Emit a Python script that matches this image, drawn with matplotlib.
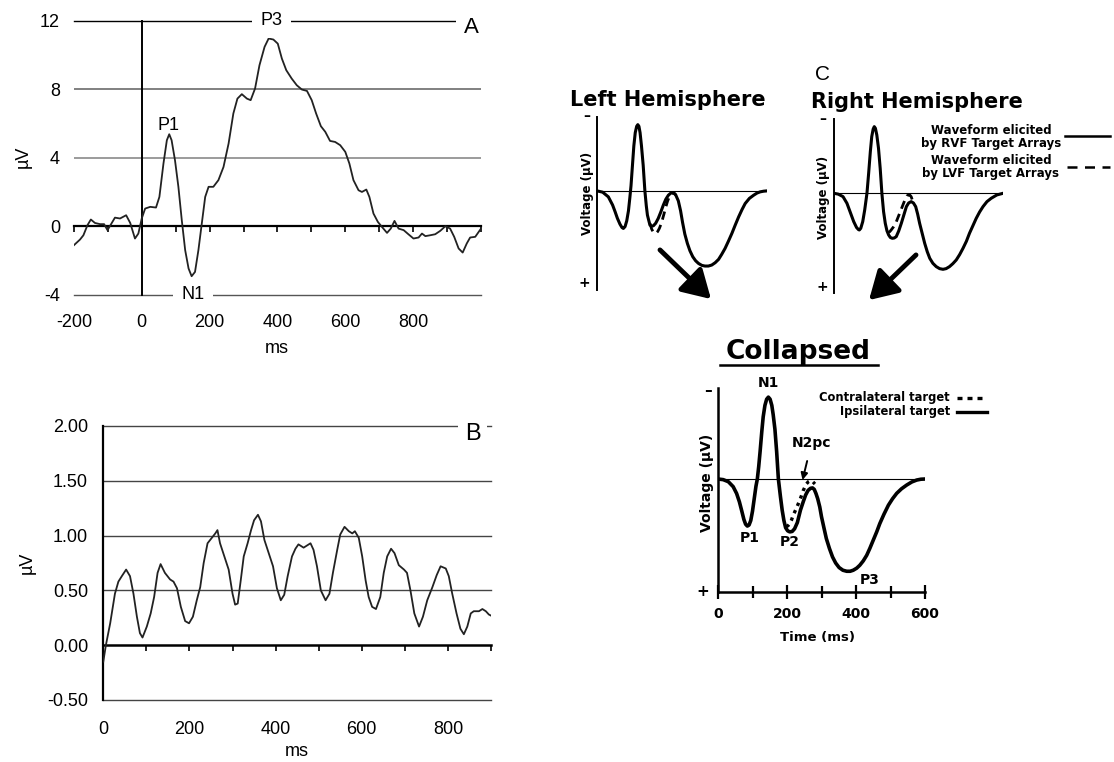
import numpy as np
import matplotlib.pyplot as plt
from matplotlib.lines import Line2D
from matplotlib.patches import FancyArrowPatch

W, H = 1114, 762

# --- panel A: grand average waveform (ms, uV) ---
a_ms = [-200, -182, -172, -160, -150, -138, -123, -111, -101, -91, -79, -64, -46, -34, -20, -10,
        0, 10, 25, 42, 52, 64, 74, 81, 88, 98, 108, 118, 128, 138, 147, 157, 167, 177, 187, 197,
        211, 226, 241, 256, 270, 282, 295, 310, 321, 334, 347, 362, 374, 388, 401, 413, 426, 442,
        457, 472, 487, 501, 514, 528, 541, 555, 570, 585, 600, 612, 624, 639, 649, 662, 671, 683,
        696, 708, 723, 734, 745, 757, 772, 786, 801, 816, 826, 836, 850, 865, 880, 895, 909, 921,
        934, 946, 958, 968, 983, 1000]
a_uv = [-1.11, -0.78, -0.53, 0.06, 0.39, 0.19, 0.12, 0.12, -0.23, 0.10, 0.50, 0.45, 0.64, 0.19, -0.72, -0.43,
        0.45, 1.03, 1.13, 1.09, 1.71, 3.66, 5.02, 5.37, 5.02, 3.85, 2.30, 0.35, -1.40, -2.47, -2.92, -2.67, -1.40, 0.16, 1.71, 2.30,
        2.30, 2.69, 3.46, 4.83, 6.58, 7.45, 7.71, 7.45, 7.36, 8.04, 9.40, 10.47, 10.96, 10.90, 10.66, 9.79, 9.11, 8.62,
        8.23, 7.98, 7.90, 7.36, 6.58, 5.84, 5.51, 4.98, 4.92, 4.73, 4.34, 3.66, 2.69, 2.10, 2.00, 2.14, 1.71, 0.74,
        0.25, -0.04, -0.39, -0.14, 0.31, -0.14, -0.23, -0.47, -0.72, -0.66, -0.43, -0.58, -0.53, -0.47, -0.27, 0.00, -0.14, -0.62,
        -1.30, -1.54, -1.01, -0.66, -0.62, -0.14]

# --- panel B: waveform (ms, uV) ---
b_ms = [0, 6, 16, 27, 35, 43, 53, 62, 70, 78, 85, 91, 101, 110, 118, 126, 133, 143, 155, 163, 171, 180,
        190, 199, 208, 217, 225, 233, 242, 252, 260, 265, 271, 281, 291, 300, 306, 312, 319, 326, 335, 343,
        350, 359, 366, 374, 384, 394, 403, 412, 420, 428, 438, 446, 453, 465, 473, 481, 488, 496, 505, 516,
        525, 533, 543, 550, 560, 570, 578, 584, 593, 601, 609, 616, 624, 633, 643, 651, 659, 668, 676, 686,
        698, 705, 713, 722, 733, 742, 752, 764, 774, 783, 795, 802, 810, 820, 829, 837, 845, 853, 860, 872,
        880, 888, 895, 900]
b_uv = [-0.15, 0.00, 0.20, 0.47, 0.58, 0.63, 0.69, 0.63, 0.47, 0.26, 0.11, 0.07, 0.17, 0.29, 0.44, 0.66, 0.74, 0.66, 0.60, 0.58, 0.52, 0.35,
        0.22, 0.20, 0.26, 0.41, 0.53, 0.75, 0.93, 0.98, 1.02, 1.05, 0.93, 0.81, 0.69, 0.47, 0.37, 0.38, 0.59, 0.81, 0.93, 1.05,
        1.14, 1.19, 1.13, 0.96, 0.84, 0.72, 0.52, 0.41, 0.46, 0.63, 0.81, 0.88, 0.92, 0.89, 0.91, 0.93, 0.87, 0.72, 0.50, 0.41,
        0.47, 0.66, 0.87, 1.01, 1.08, 1.04, 1.02, 1.04, 0.98, 0.81, 0.59, 0.44, 0.35, 0.33, 0.44, 0.66, 0.81, 0.88, 0.84, 0.73,
        0.69, 0.66, 0.50, 0.29, 0.17, 0.26, 0.41, 0.53, 0.64, 0.72, 0.70, 0.63, 0.47, 0.29, 0.15, 0.10, 0.17, 0.29, 0.31, 0.31,
        0.33, 0.31, 0.28, 0.27]
b_yticks = [-0.5, 0.0, 0.5, 1.0, 1.5, 2.0]

# --- panel C: schematic waveforms (ms, arbitrary units, positive down) ---
lh_ms = [0, 20, 40, 55, 64, 72, 81, 88, 93, 99, 105, 111, 116, 120, 125, 130, 135, 140, 144, 148, 152, 157,
         163, 169, 174, 178, 183, 187, 193, 199, 207, 216, 225, 234, 243, 252, 261, 269, 278, 287, 295, 302,
         310, 319, 328, 338, 348, 358, 370, 381, 393, 405, 417, 429, 440, 452, 464, 476, 488, 500, 512, 523,
         538, 553, 565, 576, 588, 600]
lh_v = [0, 0.08, 0.36, 0.85, 1.26, 1.65, 2.0, 2.2, 2.26, 2.15, 1.8, 1.2, 0.4, -0.3, -1.5, -2.7, -3.5, -3.88, -3.98, -3.88, -3.5, -2.7,
        -1.54, 0, 0.9, 1.46, 1.8, 2.06, 2.12, 2.1, 1.95, 1.66, 1.28, 0.86, 0.5, 0.26, 0.13, 0.1, 0.25, 0.6, 1.2, 1.9,
        2.6, 3.16, 3.6, 3.96, 4.2, 4.36, 4.48, 4.52, 4.52, 4.46, 4.32, 4.12, 3.82, 3.46, 3.02, 2.56, 2.05, 1.56, 1.12, 0.76,
        0.45, 0.26, 0.13, 0.06, 0.02, 0]
lh_lvf_ms = [187, 193, 198, 203, 208, 214, 220, 226, 231, 237, 243, 249, 255, 261, 267, 273, 279]
lh_lvf_v = [1.96, 2.3, 2.46, 2.54, 2.56, 2.45, 2.26, 2.0, 1.72, 1.35, 0.96, 0.62, 0.36, 0.2, 0.12, 0.15, 0.26]

rh_ms = [0, 15, 32, 46, 58, 70, 80, 87, 90, 95, 102, 109, 117, 123, 129, 134, 139, 143, 147, 152, 158, 164,
         170, 176, 182, 188, 194, 200, 207, 214, 221, 230, 239, 248, 257, 265, 274, 282, 290, 297, 304, 313,
         322, 331, 340, 351, 363, 375, 387, 398, 410, 422, 434, 446, 458, 470, 481, 493, 505, 517, 529, 543,
         558, 578, 600]
rh_v = [0, 0.05, 0.2, 0.6, 1.15, 1.7, 2.05, 2.18, 2.2, 2.1, 1.7, 1.0, 0, -1.2, -2.5, -3.4, -3.85, -4.0, -3.9, -3.5, -2.7, -1.5,
        0, 1.1, 1.8, 2.25, 2.5, 2.65, 2.7, 2.68, 2.6, 2.25, 1.8, 1.3, 0.8, 0.58, 0.5, 0.58, 0.8, 1.25, 1.8, 2.4,
        3.0, 3.5, 3.9, 4.2, 4.4, 4.52, 4.56, 4.52, 4.4, 4.22, 4.0, 3.68, 3.3, 2.88, 2.4, 1.95, 1.5, 1.12, 0.8, 0.5,
        0.3, 0.1, 0]
rh_lvf_ms = [192, 198, 203, 211, 219, 226, 233, 240, 247, 253, 259, 264, 269, 274, 278]
rh_lvf_v = [2.35, 2.3, 2.2, 2.02, 1.8, 1.5, 1.2, 0.9, 0.6, 0.35, 0.16, 0.1, 0.1, 0.2, 0.4]

col_ms = [0, 15, 30, 44, 54, 62, 69, 75, 80, 85, 90, 95, 100, 105, 110, 114, 118, 122, 127, 131, 136, 141,
          146, 151, 156, 160, 165, 170, 175, 181, 186, 191, 196, 202, 208, 215, 222, 230, 239, 247, 254, 261,
          268, 274, 279, 284, 289, 295, 300, 307, 314, 323, 332, 341, 351, 362, 373, 383, 392, 402, 411, 421,
          431, 440, 450, 460, 469, 481, 494, 506, 518, 532, 547, 562, 576, 588, 600]
col_v = [0, 0.03, 0.13, 0.37, 0.7, 1.1, 1.55, 1.95, 2.18, 2.27, 2.22, 2.0, 1.55, 0.95, 0.35, 0, -0.6, -1.32, -2.3, -3.0, -3.55, -3.85,
         -3.95, -3.85, -3.55, -3.1, -2.4, -1.32, 0, 0.85, 1.5, 2.0, 2.35, 2.5, 2.55, 2.53, 2.4, 2.1, 1.5, 1.1, 0.77, 0.55,
         0.45, 0.43, 0.5, 0.7, 0.95, 1.35, 1.82, 2.35, 2.87, 3.35, 3.76, 4.05, 4.27, 4.4, 4.45, 4.45, 4.4, 4.3, 4.16, 3.95,
         3.68, 3.35, 2.95, 2.55, 2.15, 1.7, 1.26, 0.95, 0.69, 0.47, 0.29, 0.14, 0.05, 0.01, 0]
col_contra_ms = [198, 203, 208, 213, 218, 222, 227, 232, 237, 242, 247, 252, 256, 262, 268, 274, 281]
col_contra_v = [2.3, 2.25, 2.15, 1.98, 1.74, 1.6, 1.42, 1.22, 1.02, 0.8, 0.56, 0.38, 0.24, 0.13, 0.08, 0.12, 0.24]
col_xticks = [0, 200, 400, 600]

plt.rcParams['font.family'] = 'Liberation Sans'
plt.rcParams['axes.unicode_minus'] = False

fig = plt.figure(figsize=(W / 100, H / 100), dpi=100)


def box(x0, y0, x1, y1):
    # axes from pixel box (top-left origin)
    return fig.add_axes([x0 / W, 1 - y1 / H, (x1 - x0) / W, (y1 - y0) / H])


def fp(x, y):
    return x / W, 1 - y / H


# ---------------- panel A ----------------
axA = box(73.9, 20.7, 481, 294.7)
axA.set_xlim(-200, 1000)
axA.set_ylim(-4, 12)
for s in axA.spines.values():
    s.set_visible(False)
axA.axhline(12, color='black', lw=1, clip_on=False)
axA.axhline(8, color='#808080', lw=1.4)
axA.axhline(4, color='#808080', lw=1.1)
axA.axhline(-4, color='#555555', lw=1, clip_on=False)
axA.axvline(0, color='black', lw=1.4, clip_on=False)
secA = axA.secondary_xaxis(0.25)
secA.set_xticks(np.arange(-200, 1001, 100))
secA.tick_params(direction='out', length=4, width=1.2, labelbottom=False)
secA.spines['bottom'].set_linewidth(1.6)
axA.plot(a_ms, a_uv, color='#222222', lw=1.3)
axA.set_xticks(range(-200, 801, 200))
axA.set_yticks([-4, 0, 4, 8, 12])
axA.tick_params(axis='x', length=0, labelsize=13, pad=14)
axA.tick_params(axis='y', length=0, labelsize=13, pad=10)
axA.text(383, 12, 'P3', ha='center', va='center', fontsize=13,
         bbox=dict(fc='white', ec='none', pad=6))
axA.text(152, -4, 'N1', ha='center', va='center', fontsize=13,
         bbox=dict(fc='white', ec='none', pad=6))
axA.text(79, 5.9, 'P1', ha='center', va='center', fontsize=13)
axA.text(972, 11.6, 'A', ha='center', va='center', fontsize=16,
         bbox=dict(fc='white', ec='none', pad=6))
fig.text(*fp(277, 348), 'ms', ha='center', va='center', fontsize=13)
fig.text(*fp(23, 157), 'µV', ha='center', va='center', fontsize=13, rotation=90)

# ---------------- panel B ----------------
axB = box(103.3, 426, 491, 700)
axB.set_xlim(0, 900)
axB.set_ylim(-0.5, 2.0)
for s in axB.spines.values():
    s.set_visible(False)
for yv in b_yticks:
    if yv != 0:
        axB.axhline(yv, color='#444444', lw=1, clip_on=False)
axB.axvline(0, color='black', lw=1.6, clip_on=False)
secB = axB.secondary_xaxis(0.2)
secB.set_xticks(np.arange(0, 901, 100))
secB.tick_params(direction='out', length=4, width=1.2, labelbottom=False)
secB.spines['bottom'].set_linewidth(1.8)
axB.plot(b_ms, b_uv, color='#222222', lw=1.3)
axB.set_xticks(range(0, 801, 200))
axB.set_yticks(b_yticks)
axB.set_yticklabels([f'{v:.2f}' for v in b_yticks])
axB.tick_params(axis='x', length=0, labelsize=13, pad=15)
axB.tick_params(axis='y', length=0, labelsize=13, pad=11)
axB.text(857, 1.93, 'B', ha='center', va='center', fontsize=17,
         bbox=dict(fc='white', ec='none', pad=5))
fig.text(*fp(297, 752), 'ms', ha='center', va='center', fontsize=13)
fig.text(*fp(27, 563), 'µV', ha='center', va='center', fontsize=13, rotation=90)

# ---------------- panel C ----------------
bold = dict(family='DejaVu Sans', fontweight='bold')
fig.text(*fp(822, 75), 'C', ha='center', va='center', fontsize=15)


def hemi(ax, ylim):
    ax.set_xlim(0, 600)
    ax.set_ylim(*ylim)
    for k in ['top', 'right', 'bottom']:
        ax.spines[k].set_visible(False)
    ax.spines['left'].set_linewidth(1.4)
    ax.set_xticks([])
    ax.set_yticks([])
    ax.patch.set_alpha(0)
    ax.axhline(0, color='black', lw=0.8)


axL = box(597, 117, 767, 290)
hemi(axL, (5.96, -4.44))
axL.plot(lh_ms, lh_v, color='black', lw=2.2, solid_joinstyle='round')
axL.plot(lh_lvf_ms, lh_lvf_v, color='black', lw=2.0, dashes=(3, 2))
fig.text(*fp(668, 100), 'Left Hemisphere', ha='center', va='center', fontsize=15, **bold)
fig.text(*fp(587, 193), 'Voltage (µV)', ha='center', va='center', fontsize=8.5, rotation=90, **bold)
fig.text(*fp(587, 116), '–', ha='center', va='center', fontsize=10, **bold)
fig.text(*fp(584, 283), '+', ha='center', va='center', fontsize=10, **bold)

axR = box(834, 119.3, 1003, 293.3)
hemi(axR, (6.0, -4.44))
axR.plot(rh_ms, rh_v, color='black', lw=2.2, solid_joinstyle='round')
axR.plot(rh_lvf_ms, rh_lvf_v, color='black', lw=2.0, dashes=(3, 2))
fig.text(*fp(917, 102), 'Right Hemisphere', ha='center', va='center', fontsize=15, **bold)
fig.text(*fp(823, 197), 'Voltage (µV)', ha='center', va='center', fontsize=8.5, rotation=90, **bold)
fig.text(*fp(823, 119), '–', ha='center', va='center', fontsize=10, **bold)
fig.text(*fp(822, 287), '+', ha='center', va='center', fontsize=10, **bold)
fig.text(*fp(991, 137), 'Waveform elicited\nby RVF Target Arrays', ha='center', va='center',
         fontsize=8.5, linespacing=1.1, **bold)
fig.text(*fp(991, 167), 'Waveform elicited\nby LVF Target Arrays', ha='center', va='center',
         fontsize=8.5, linespacing=1.1, **bold)
fig.add_artist(Line2D([1065 / W, 1110 / W], [1 - 136 / H, 1 - 136 / H], color='black', lw=1.8))
fig.add_artist(Line2D([1067 / W, 1110 / W], [1 - 167 / H, 1 - 167 / H], color='black', lw=1.8,
                      dashes=(4, 3)))

# arrows to the collapsed plot
for a, b in [((658, 248), (713, 301)), ((918, 253), (867, 302))]:
    fig.add_artist(FancyArrowPatch(fp(*a), fp(*b), transform=fig.transFigure,
                                   arrowstyle='-|>,head_length=0.85,head_width=0.5',
                                   mutation_scale=20, lw=3.5, color='black'))

# collapsed
axC = box(718, 388, 925, 592)
axC.set_xlim(0, 600)
axC.set_ylim(5.45, -4.39)
axC.patch.set_alpha(0)
for k in ['top', 'right']:
    axC.spines[k].set_visible(False)
axC.spines['left'].set_linewidth(1.8)
axC.spines['bottom'].set_linewidth(1.8)
axC.set_yticks([])
axC.set_xticks(col_xticks)
axC.set_xticks([100, 300, 500], minor=True)
axC.tick_params(axis='x', which='major', direction='inout', length=10, width=1.6, pad=6)
axC.tick_params(axis='x', which='minor', direction='inout', length=8, width=1.6)
for lab in axC.get_xticklabels():
    lab.set_fontfamily('DejaVu Sans')
    lab.set_fontweight('bold')
    lab.set_fontsize(10)
axC.axhline(0, color='black', lw=0.8)
axC.plot(col_ms, col_v, color='black', lw=2.6, solid_joinstyle='round')
axC.plot(col_contra_ms, col_contra_v, color='black', lw=2.4, dashes=(1, 1.4))
axC.text(145, -4.62, 'N1', ha='center', va='center', fontsize=10, clip_on=False, **bold)
axC.text(92, 2.85, 'P1', ha='center', va='center', fontsize=10, **bold)
axC.text(208, 3.05, 'P2', ha='center', va='center', fontsize=10, **bold)
axC.text(440, 4.85, 'P3', ha='center', va='center', fontsize=10, **bold)
axC.annotate('N2pc', xy=(245, 0.05), xytext=(271, -1.73), ha='center', va='center',
             fontsize=10, **bold,
             arrowprops=dict(arrowstyle='-|>', color='black', lw=1.4, shrinkA=6, shrinkB=0))
fig.text(*fp(798, 352), 'Collapsed', ha='center', va='center', fontsize=19, **bold)
fig.add_artist(Line2D([720 / W, 878 / W], [1 - 365 / H, 1 - 365 / H], color='black', lw=1.8))
fig.text(*fp(817, 637), 'Time (ms)', ha='center', va='center', fontsize=9.5, **bold)
fig.text(*fp(708, 390), '–', ha='center', va='center', fontsize=11, **bold)
fig.text(*fp(703, 592), '+', ha='center', va='center', fontsize=11, **bold)
fig.text(*fp(707, 483), 'Voltage (µV)', ha='center', va='center', fontsize=10, rotation=90, **bold)
fig.text(*fp(950, 398), 'Contralateral target', ha='right', va='center', fontsize=8.3, **bold)
fig.text(*fp(950, 411), 'Ipsilateral target', ha='right', va='center', fontsize=8.3, **bold)
fig.add_artist(Line2D([957 / W, 984 / W], [1 - 398 / H, 1 - 398 / H], color='black', lw=2.4,
                      dashes=(1.5, 1.5)))
fig.add_artist(Line2D([957 / W, 987 / W], [1 - 412 / H, 1 - 412 / H], color='black', lw=2.4))

fig.savefig('out.png', dpi=100)
